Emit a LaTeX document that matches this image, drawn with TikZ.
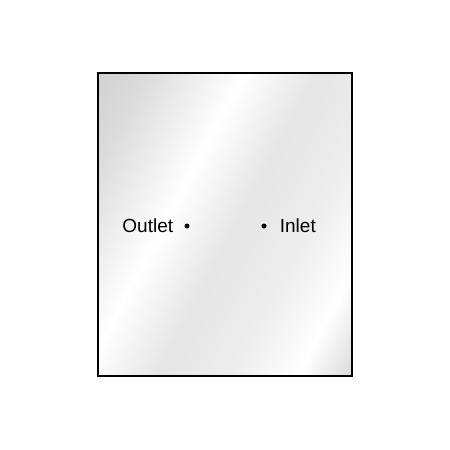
\documentclass[tikz,border=0pt]{standalone}
\usepackage{fontspec}
\setmainfont{Liberation Sans}
\usepackage{tikz}
\usetikzlibrary{positioning}
\pgfdeclarehorizontalshading{silver}{100bp}{color(0bp)=(black!26);
  color(24bp)=(black!14); color(40bp)=(white); color(52bp)=(black!10);
  color(64bp)=(black!7); color(75bp)=(white); color(86bp)=(black!18);
  color(100bp)=(black!34)}

\tikzset{
  panel/.style={draw=black, line width=2.5pt, shading=silver, shading angle=-28},
  port/.style={circle, fill=black, inner sep=0pt, minimum size=5pt},
  portlabel/.style={font=\fontsize{19}{21}\selectfont, inner sep=0pt}
}

\begin{document}
\begin{tikzpicture}[x=1pt,y=-1pt]
\useasboundingbox (0,0) rectangle (450,450);
\path[panel] (98,73) rectangle (352,376);
\node[port] (outletdot) at (187,226) {};
\node[port] (inletdot) at (264,226) {};
\node[portlabel, left=11pt of outletdot] (outlet) {Outlet};
\node[portlabel, right=13pt of inletdot] (inlet) {Inlet};
\end{tikzpicture}
\end{document}
